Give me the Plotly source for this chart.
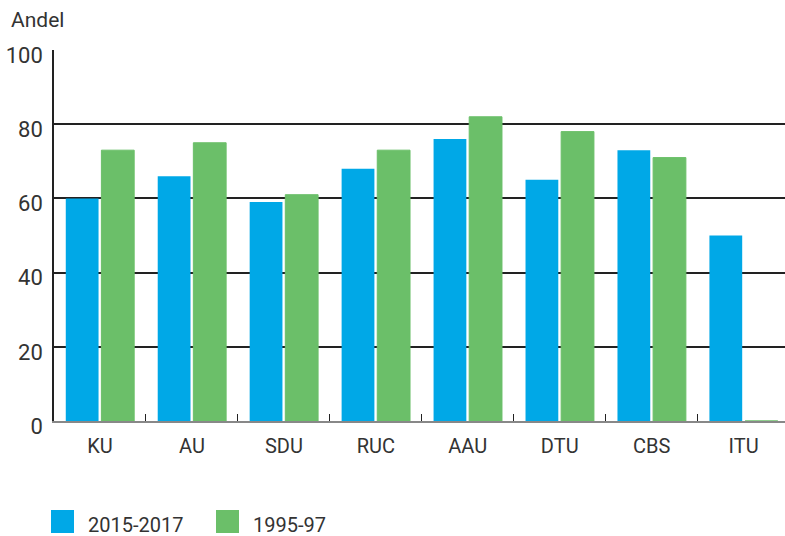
import plotly.graph_objects as go

categories = ["KU", "AU", "SDU", "RUC", "AAU", "DTU", "CBS", "ITU"]
series_2015_2017 = [60, 66, 59, 68, 76, 65, 73, 50]
series_1995_97 = [73, 75, 61, 73, 82, 78, 71, 0]
series_names = ["2015-2017", "1995-97"]
y_ticks = [0, 20, 40, 60, 80, 100]

BLUE = "#00A8E7"
GREEN = "#6BBF69"
TXT = "#333333"
FONT = "Roboto"

fig = go.Figure()
fig.add_trace(go.Bar(x=categories, y=series_2015_2017, name=series_names[0],
                     marker=dict(color=BLUE, line=dict(width=0))))
fig.add_trace(go.Bar(x=categories, y=series_1995_97, name=series_names[1],
                     marker=dict(color=GREEN, line=dict(width=1, color=GREEN))))

W, H = 785, 536
L, T, B, R = 54, 50, 115, 0

fig.update_layout(
    width=W, height=H,
    margin=dict(l=L, r=R, t=T, b=B),
    paper_bgcolor="white", plot_bgcolor="white",
    barmode="group", bargap=0.225, bargroupgap=0.08,
    showlegend=False,
    font=dict(family=FONT, color=TXT, size=20),
    xaxis=dict(
        type="category", range=[-0.5, 7.45],
        showgrid=False, showline=True, linecolor="#888888", linewidth=1.5,
        ticks="inside", tickson="boundaries", ticklen=7, tickcolor="#222222", tickwidth=1.2,
        tickfont=dict(size=20, color=TXT, family=FONT),
        ticklabelstandoff=6,
    ),
    yaxis=dict(
        range=[0, 100], tickvals=y_ticks, ticktext=[str(v) for v in y_ticks],
        showgrid=True, gridcolor="#222222", gridwidth=1.5,
        showline=True, linecolor="#222222", linewidth=1.5,
        zeroline=False, ticks="",
        tickfont=dict(size=22, color=TXT, family=FONT),
        ticklabelstandoff=5, ticklabelshift=5,
    ),
)

# Axis title "Andel"
fig.add_annotation(text="Andel", xref="paper", yref="paper",
                   x=-45 / (W - L - R), y=1 + 30 / (H - T - B),
                   xanchor="left", yanchor="middle", showarrow=False,
                   font=dict(size=21, color=TXT, family=FONT))

# Custom legend (large square swatches)
pw, ph = W - L - R, H - T - B
def px_x(x):
    return (x - L) / pw
def px_y(y):
    return (H - B - y) / ph

legend_items = [(series_names[0], BLUE, 51, 86), (series_names[1], GREEN, 216, 251)]
for name, col, sx, tx in legend_items:
    fig.add_shape(type="rect", xref="paper", yref="paper",
                  x0=px_x(sx), x1=px_x(sx + 23), y0=px_y(510), y1=px_y(533),
                  fillcolor=col, line=dict(width=0))
    fig.add_annotation(text=name, xref="paper", yref="paper",
                       x=px_x(tx), y=px_y(525), xanchor="left", yanchor="middle",
                       showarrow=False, font=dict(size=20, color=TXT, family=FONT))

fig.write_html("out.html", config={"displayModeBar": False})

# remove default browser body margin so the figure sits at the page's top-left
with open("out.html", "r", encoding="utf-8") as f:
    html = f.read()
html = html.replace("<body>", '<body style="margin:0;padding:0;overflow:hidden">', 1)
html = html.replace("<head>", '<head><style>html,body{margin:0;padding:0;}</style>', 1)
with open("out.html", "w", encoding="utf-8") as f:
    f.write(html)
